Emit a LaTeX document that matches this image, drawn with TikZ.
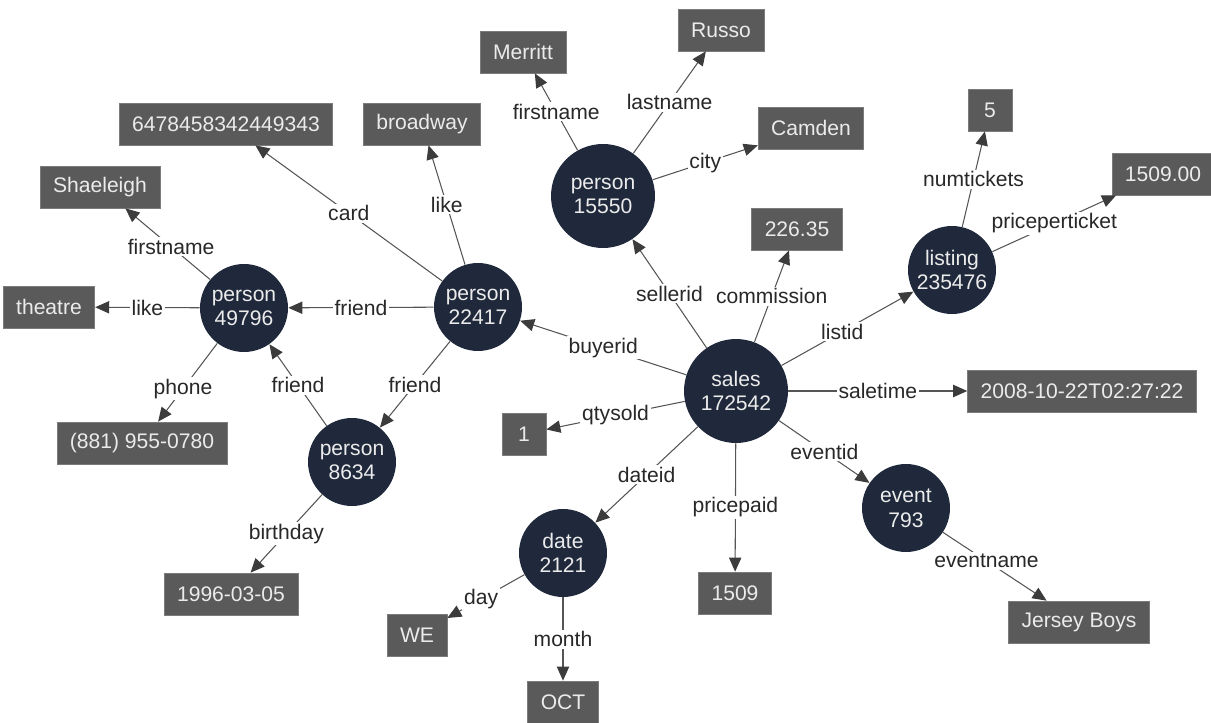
\documentclass[tikz,border=0pt]{standalone}
\usepackage{fontspec}
\setmainfont{Liberation Sans}
\usetikzlibrary{arrows.meta}

\definecolor{entblue}{RGB}{31,41,59}
\definecolor{valgray}{RGB}{90,90,90}
\definecolor{linegray}{RGB}{85,85,85}
\definecolor{tipgray}{RGB}{60,60,60}
\definecolor{labgray}{RGB}{40,40,40}

\tikzset{
    ent/.style={circle, fill=entblue, text=white!92!black, align=center,
        minimum size=1.76cm, inner sep=0pt, font=\fontsize{12}{14}\selectfont},
    bigent/.style={ent, minimum size=2.08cm},
    val/.style={rectangle, fill=valgray, draw=valgray!80!white, line width=0.4pt,
        text=white!92!black, minimum height=0.84cm, minimum width=0.88cm,
        inner xsep=0.26cm, font=\fontsize{12}{14}\selectfont},
    rel/.style={draw=linegray, line width=0.6pt,
        -{Triangle[length=8pt,width=7pt,color=tipgray]}},
    lbl/.style={fill=white, inner sep=1pt, text=labgray, pos=0.5,
        font=\fontsize{12}{14}\selectfont}
}

\begin{document}
\begin{tikzpicture}[x=0.02cm, y=-0.02cm]
    \useasboundingbox (0,0) rectangle (1211,723);

    % Entities
    \node[bigent] (p15550) at (603,196) {person\\15550};
    \node[ent] (p22417) at (478,307) {person\\22417};
    \node[ent] (p49796) at (244,308) {person\\49796};
    \node[ent] (p8634) at (352,462) {person\\8634};
    \node[bigent] (sales) at (736,391) {sales\\172542};
    \node[ent] (listing) at (952,270) {listing\\235476};
    \node[ent] (date) at (563,553) {date\\2121};
    \node[ent] (event) at (906,508) {event\\793};

    % Values
    \node[val] (card) at (226,124) {6478458342449343};
    \node[val] (broadway) at (422,124) {broadway};
    \node[val] (shaeleigh) at (100,187) {Shaeleigh};
    \node[val] (theatre) at (49,307) {theatre};
    \node[val] (phone) at (142,443) {(881) 955-0780};
    \node[val] (bday) at (231,594) {1996-03-05};
    \node[val] (merritt) at (523,52) {Merritt};
    \node[val] (russo) at (721,30) {Russo};
    \node[val] (camden) at (811,128) {Camden};
    \node[val] (comm) at (797,229) {226.35};
    \node[val] (numtix) at (990,110) {5};
    \node[val] (ppt) at (1163,174) {1509.00};
    \node[val] (stime) at (1082,391) {2008-10-22T02:27:22};
    \node[val] (qty) at (524,434) {1};
    \node[val] (paid) at (735,593) {1509};
    \node[val] (day) at (417,635) {WE};
    \node[val] (month) at (563,702) {OCT};
    \node[val] (ename) at (1079,622) {Jersey Boys};

    % Buyer side
    \draw[rel] (p22417) -- node[lbl] {card} (card);
    \draw[rel] (p22417) -- node[lbl] {like} (broadway);
    \draw[rel] (p22417) -- node[lbl] {friend} (p49796);
    \draw[rel] (p22417) -- node[lbl] {friend} (p8634);
    \draw[rel] (p49796) -- node[lbl, pos=0.46] {firstname} (shaeleigh);
    \draw[rel] (p49796) -- node[lbl] {like} (theatre);
    \draw[rel] (p49796) -- node[lbl, pos=0.58] {phone} (phone);
    \draw[rel] (p8634) -- node[lbl] {friend} (p49796);
    \draw[rel] (p8634) -- node[lbl] {birthday} (bday);

    % Seller
    \draw[rel] (p15550) -- node[lbl] {firstname} (merritt);
    \draw[rel] (p15550) -- node[lbl] {lastname} (russo);
    \draw[rel] (p15550) -- node[lbl] {city} (camden);

    % Sale and its links
    \draw[rel] (sales) -- node[lbl] {sellerid} (p15550);
    \draw[rel] (sales) -- node[lbl] {buyerid} (p22417);
    \draw[rel] (sales) -- node[lbl] {commission} (comm);
    \draw[rel] (sales) -- node[lbl, pos=0.46] {listid} (listing);
    \draw[rel] (sales) -- node[lbl] {saletime} (stime);
    \draw[rel] (sales) -- node[lbl] {qtysold} (qty);
    \draw[rel] (sales) -- node[lbl] {dateid} (date);
    \draw[rel] (sales) -- node[lbl] {pricepaid} (paid);
    \draw[rel] (sales) -- node[lbl] {eventid} (event);

    % Listing, date, event
    \draw[rel] (listing) -- node[lbl] {numtickets} (numtix);
    \draw[rel] (listing) -- node[lbl] {priceperticket} (ppt);
    \draw[rel] (date) -- node[lbl, pos=0.56] {day} (day);
    \draw[rel] (date) -- node[lbl] {month} (month);
    \draw[rel] (event) -- node[lbl, pos=0.42] {eventname} (ename);
\end{tikzpicture}
\end{document}
